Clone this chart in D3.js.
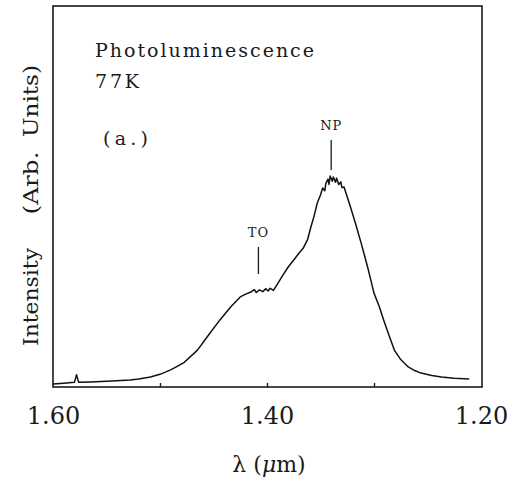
<!DOCTYPE html>
<html>
<head>
<meta charset="utf-8">
<script src="https://cdn.jsdelivr.net/npm/d3@7"></script>
<style>
    body { margin: 0; background: #fff; }
    text { fill: #1a1a1a; }
</style>
</head>
<body>
<script>
// wavelength (um) and intensity (arb. units)
const wavelength = [1.600, 1.590, 1.580, 1.578, 1.576, 1.565, 1.545, 1.528, 1.520, 1.509, 1.500, 1.490,
    1.478, 1.465, 1.456, 1.444, 1.434, 1.425, 1.420, 1.415, 1.412, 1.410, 1.407, 1.404, 1.401,
    1.399, 1.397, 1.394, 1.390, 1.385, 1.380, 1.375, 1.370, 1.366, 1.362, 1.359, 1.356, 1.353,
    1.350, 1.348, 1.346, 1.345, 1.343, 1.342, 1.341, 1.339, 1.338, 1.336, 1.335, 1.333, 1.331,
    1.330, 1.328, 1.325, 1.322, 1.317, 1.312, 1.306, 1.300, 1.295, 1.291, 1.286, 1.281, 1.275,
    1.268, 1.262, 1.256, 1.246, 1.237, 1.225, 1.211];
const intensity = [0.014, 0.018, 0.022, 0.058, 0.022, 0.024, 0.028, 0.033, 0.038, 0.047, 0.060, 0.081,
    0.114, 0.175, 0.237, 0.318, 0.379, 0.427, 0.440, 0.450, 0.462, 0.448, 0.460, 0.452, 0.466,
    0.455, 0.468, 0.458, 0.490, 0.531, 0.570, 0.602, 0.635, 0.659, 0.700, 0.758, 0.810, 0.872,
    0.910, 0.943, 0.930, 0.965, 0.985, 0.960, 1.000, 0.975, 0.995, 0.970, 0.990, 0.960, 0.972,
    0.945, 0.948, 0.900, 0.853, 0.770, 0.682, 0.569, 0.445, 0.380, 0.318, 0.245, 0.175, 0.130,
    0.095, 0.078, 0.066, 0.055, 0.047, 0.042, 0.038];

const tickLabels = [1.60, 1.40, 1.20]; // labelled ticks
const innerTicks = [1.50, 1.40, 1.30]; // small ticks along the bottom axis
const peakNames = ["TO", "NP"];
const peakWavelength = [1.408, 1.340];
const noteLines = ["Photoluminescence", "77K", "(a.)"];

const serif = "'DejaVu Serif', serif";

window.onload = function() {
    const w = 524
    const h = 486

    let container = d3.select("body")
        .append("svg")
        .attr("width", w)
        .attr("height", h);

    const x = d3.scaleLinear() //wavelength runs backwards, long on the left
        .domain([1.60, 1.20])
        .range([53, 481]);

    const y = d3.scaleLinear()
        .domain([0, 1])
        .range([387, 176]);

    //frame around the plot
    container.append("rect")
        .attr("x", 53)
        .attr("y", 6)
        .attr("width", 429)
        .attr("height", 381)
        .style("fill", "none")
        .style("stroke", "#1a1a1a")
        .style("stroke-width", 1.6);

    //inward ticks on the bottom axis, no labels here
    const xAxisInner = d3.axisTop(x)
        .tickValues(innerTicks)
        .tickSize(4)
        .tickFormat("");

    container.append("g")
        .attr("class", "axis")
        .attr("transform", "translate(0, 387)")
        .call(xAxisInner)
        .call(g => g.select(".domain").remove())
        .call(g => g.selectAll("line").style("stroke", "#1a1a1a").style("stroke-width", 1.4));

    //labelled ticks underneath
    const xAxis = d3.axisBottom(x)
        .tickValues(tickLabels)
        .tickSize(0)
        .tickPadding(37)
        .tickFormat(d3.format(".2f"));

    container.append("g")
        .attr("class", "axis")
        .attr("transform", "translate(0, 387)")
        .call(xAxis)
        .call(g => g.select(".domain").remove())
        .call(g => g.selectAll("text")
            .attr("dy", 0)
            .style("font-family", serif)
            .style("font-size", "24px")
            .style("fill", "#1a1a1a"));

    //the spectrum
    const line = d3.line()
        .x(function(d, i) { return x(wavelength[i]); })
        .y(function(d) { return y(d); });

    container.append("path")
        .datum(intensity)
        .attr("d", line)
        .style("fill", "none")
        .style("stroke", "#111")
        .style("stroke-width", 1.5)
        .style("stroke-linejoin", "round");

    //peak markers
    const markerTop = [227, 120];
    const markerLen = [27, 30];
    peakNames.forEach(function(name, i) {
        const px = x(peakWavelength[i]);
        container.append("text")
            .attr("x", px)
            .attr("y", markerTop[i] + 10)
            .attr("text-anchor", "middle")
            .style("font-family", serif)
            .style("font-size", "13px")
            .style("letter-spacing", "1px")
            .text(name);
        container.append("line")
            .attr("x1", px)
            .attr("x2", px)
            .attr("y1", markerTop[i] + 20)
            .attr("y2", markerTop[i] + 20 + markerLen[i])
            .style("stroke", "#1a1a1a")
            .style("stroke-width", 1.3);
    });

    //notes in the upper left corner
    const noteX = [95, 95, 103];
    const noteY = [57, 88, 145];
    const noteLen = [219, 44, 45];
    container.selectAll(".note")
        .data(noteLines)
        .enter()
        .append("text")
        .attr("class", "note")
        .attr("x", function(d, i) { return noteX[i]; })
        .attr("y", function(d, i) { return noteY[i]; })
        .attr("textLength", function(d, i) { return noteLen[i]; })
        .attr("lengthAdjust", "spacing")
        .style("font-family", serif)
        .style("font-size", "19px")
        .text(function(d) { return d; });

    //y axis title, three words spread along the side
    const yWords = ["Intensity", "(Arb.", "Units)"];
    const yWordMid = [297, 183, 101];
    const yWordLen = [98, 63, 72];
    container.selectAll(".ylabel")
        .data(yWords)
        .enter()
        .append("text")
        .attr("class", "ylabel")
        .attr("transform", function(d, i) { return "translate(38," + yWordMid[i] + ") rotate(-90)"; })
        .attr("text-anchor", "middle")
        .attr("textLength", function(d, i) { return yWordLen[i]; })
        .attr("lengthAdjust", "spacingAndGlyphs")
        .style("font-family", serif)
        .style("font-size", "21px")
        .text(function(d) { return d; });

    //x axis title
    container.append("text")
        .attr("x", 269)
        .attr("y", 472)
        .attr("text-anchor", "middle")
        .style("font-family", serif)
        .style("font-size", "22px")
        .html("λ (<tspan font-style='italic'>μ</tspan>m)");
}
</script>
</body>
</html>
